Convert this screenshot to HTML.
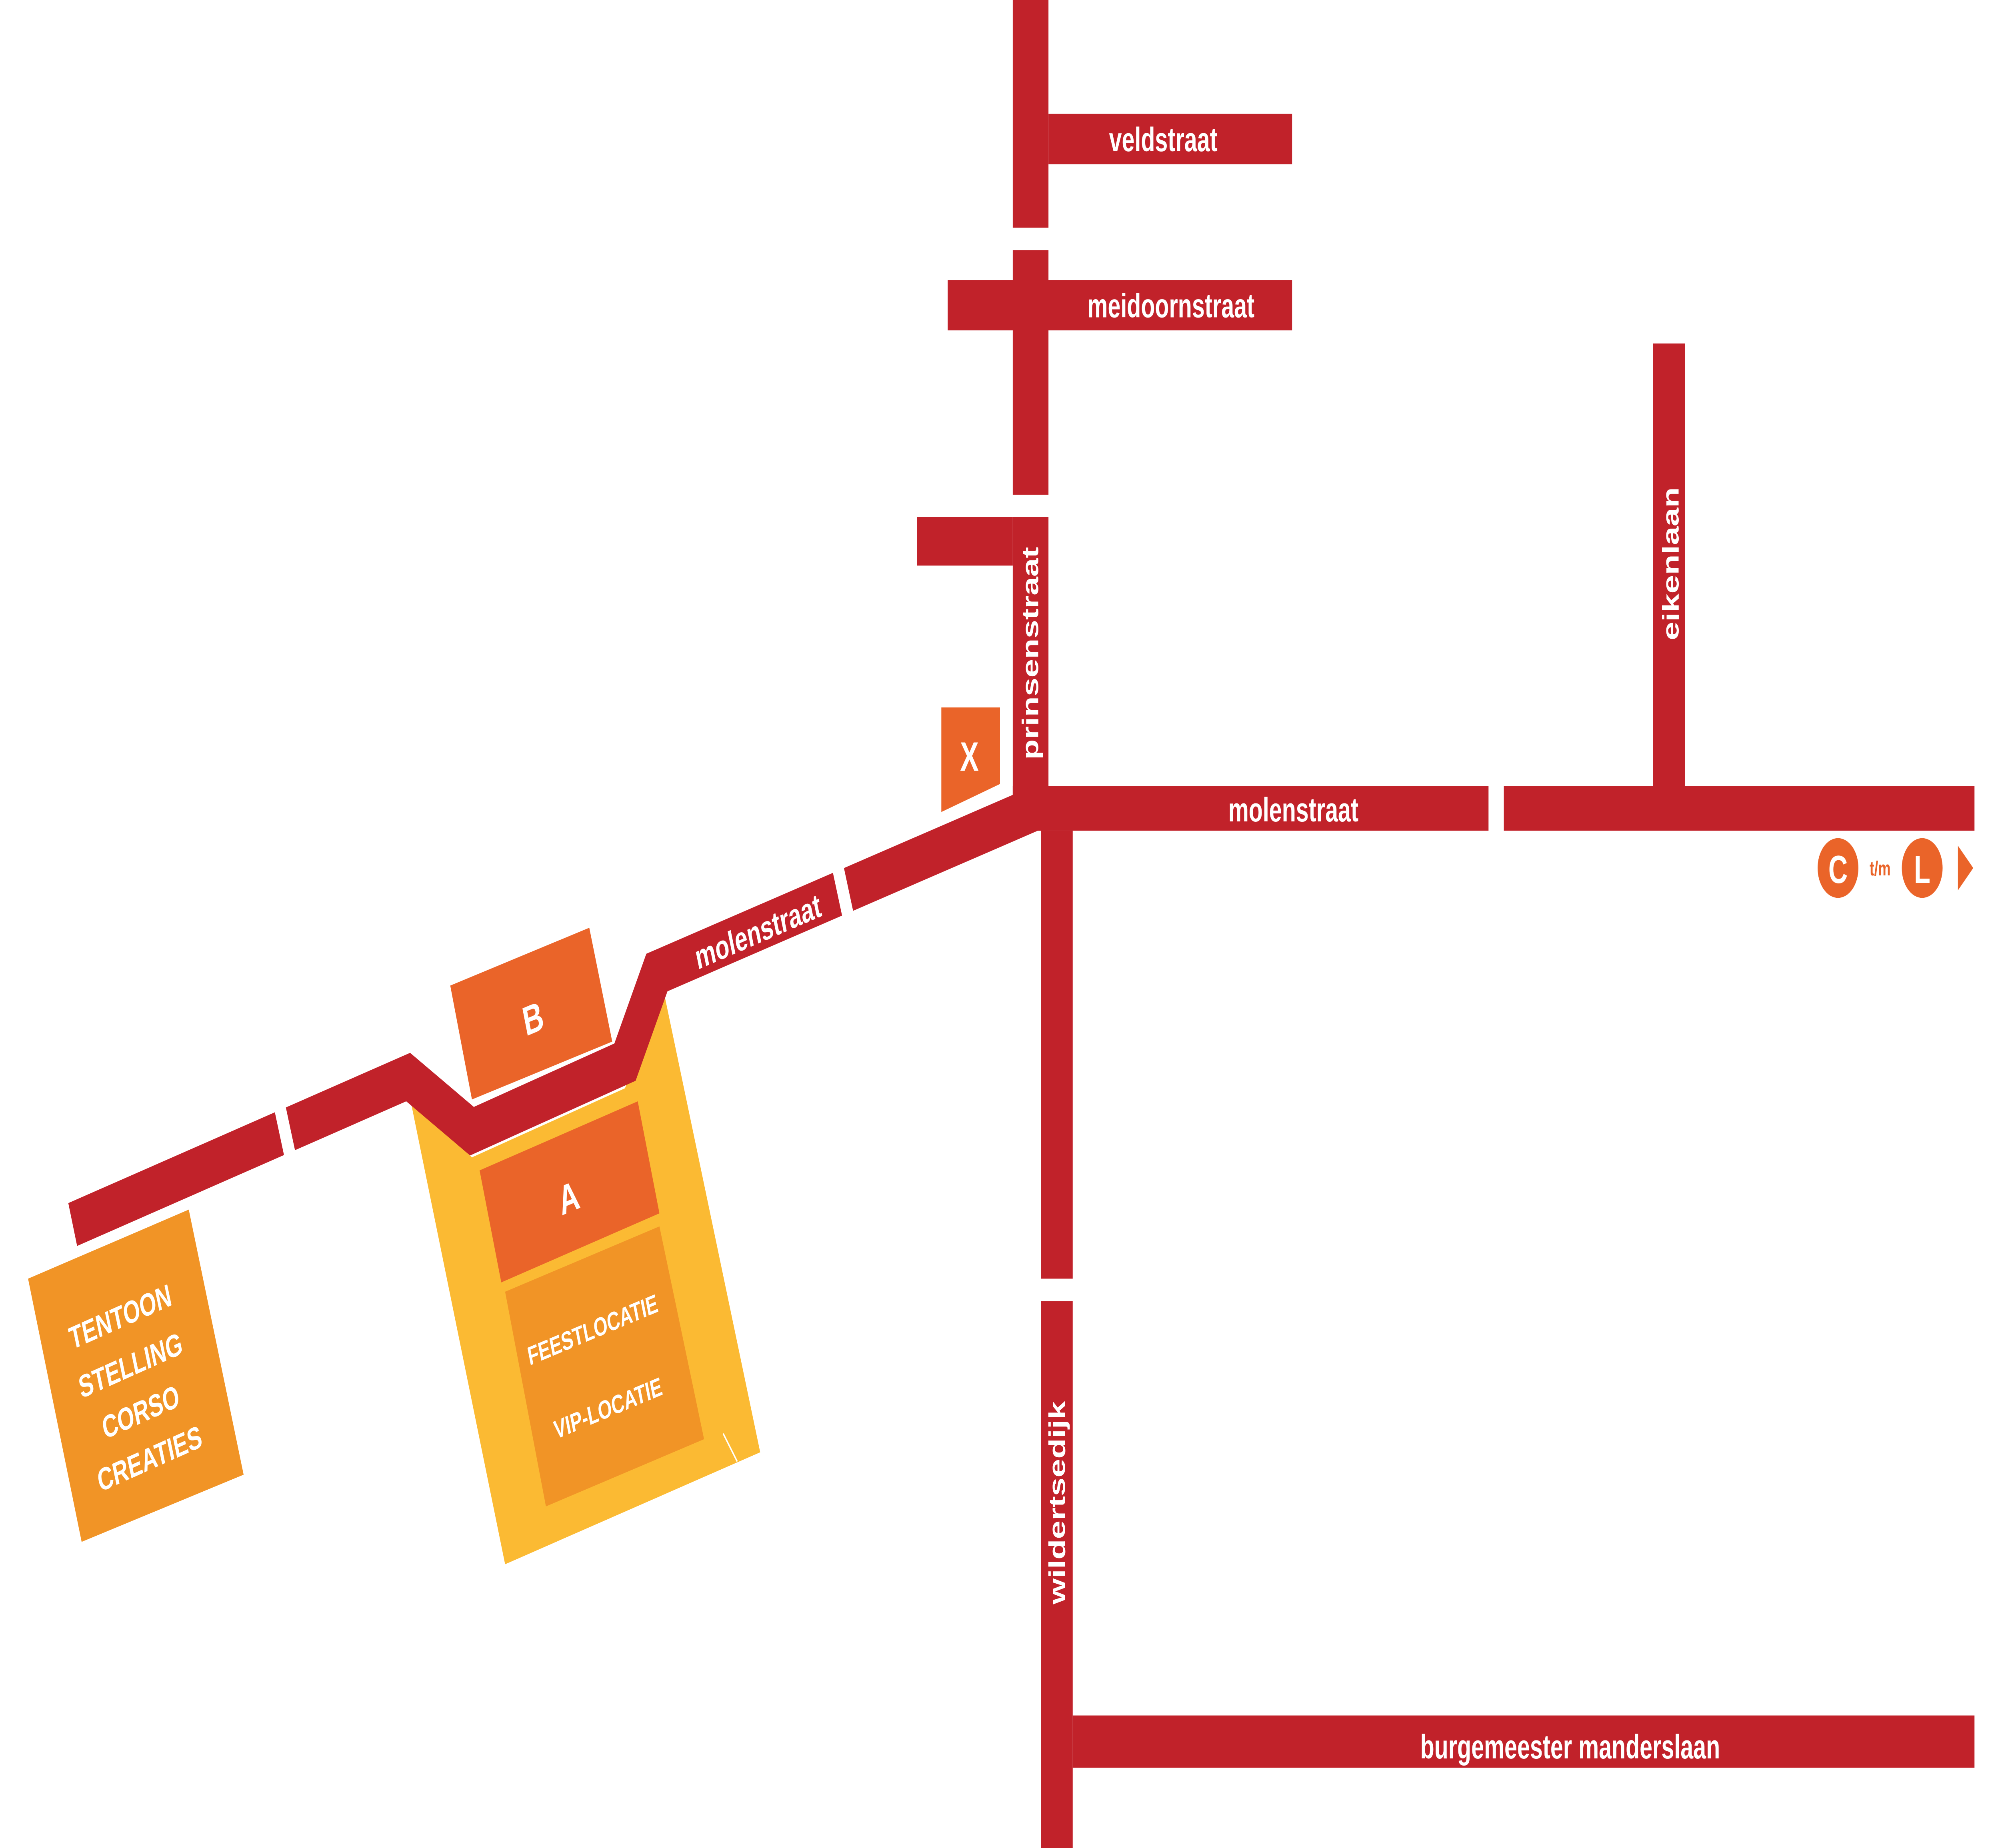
<!DOCTYPE html>
<html><head><meta charset="utf-8"><style>
html,body{margin:0;padding:0;background:#fff;overflow:hidden;width:100%;height:100%;}
svg{display:block;position:absolute;left:0;top:0;width:100vw;height:100vh;}
text{font-family:"Liberation Sans",sans-serif;font-weight:bold;fill:#fff;}
</style></head><body>
<svg viewBox="0 0 1568 990" preserveAspectRatio="none" xmlns="http://www.w3.org/2000/svg">
<g fill="#c1222a">
<rect x="794" y="0" width="28" height="122"/>
<rect x="794" y="134" width="28" height="131"/>
<rect x="794" y="277" width="28" height="168"/>
<rect x="822" y="61" width="191" height="27"/>
<rect x="743" y="150" width="270" height="27"/>
<rect x="719" y="277" width="75" height="26"/>
<rect x="794" y="421" width="373" height="24"/>
<rect x="1179" y="421" width="369" height="24"/>
<rect x="1296" y="184" width="25" height="237"/>
<rect x="816" y="445" width="25" height="240"/>
<rect x="816" y="697" width="25" height="293"/>
<rect x="841" y="919" width="707" height="28"/>
</g>
<polygon points="322,590 370,620 490,583 520,530 596,778 396,838" fill="#fbba33"/>
<polyline points="812,433 515,521 490,569 370,606 320,577 57,656" fill="none" stroke="#c1222a" stroke-width="24" stroke-linejoin="miter"/>
<polygon points="808,421 822,421 822,445 812,445" fill="#c1222a"/>
<g stroke="#fff" stroke-width="9">
<line x1="656" y1="462" x2="666" y2="494"/>
<line x1="219" y1="592" x2="229" y2="624"/>
</g>
<polygon points="376,627 500,590 517,650 393,687" fill="#ea6429"/>
<polygon points="396,692 517,657 552,771 428,807" fill="#f19426"/>
<line x1="567" y1="768" x2="578" y2="783" stroke="#fff" stroke-width="1"/>
<polygon points="353,528 462,497 480,558 370,589" fill="#ea6429"/>
<polygon points="738,379 784,379 784,420 738,435" fill="#ea6429"/>
<polygon points="22,685 148,648 191,790 64,826" fill="#f19426"/>
<text x="760" y="413" font-size="22" text-anchor="middle">X</text>
<text x="420" y="553" font-size="22" text-anchor="middle" transform="rotate(-16 420 553)">B</text>
<text x="448" y="649" font-size="22" text-anchor="middle" transform="rotate(-16 448 649)">A</text>
<text x="466" y="717" font-size="14" font-weight="normal" text-anchor="middle" transform="rotate(-16 466 717)">FEESTLOCATIE</text>
<text x="478" y="759" font-size="14" font-weight="normal" text-anchor="middle" transform="rotate(-16 478 759)">VIP-LOCATIE</text>
<g font-size="17" text-anchor="middle">
<text x="96" y="711" transform="rotate(-17 96 711)">TENTOON</text>
<text x="104" y="737" transform="rotate(-17 104 737)">STELLING</text>
<text x="112" y="762" transform="rotate(-17 112 762)">CORSO</text>
<text x="119" y="787" transform="rotate(-17 119 787)">CREATIES</text>
</g>
<g font-size="18" text-anchor="middle">
<text x="912" y="81">veldstraat</text>
<text x="918" y="170">meidoornstraat</text>
<text x="1014" y="440">molenstraat</text>
<text x="596" y="505" transform="rotate(-16.5 596 505)">molenstraat</text>
<text x="1231" y="942">burgemeester manderslaan</text>
<text x="814" y="350" transform="rotate(-90 814 350)">prinsenstraat</text>
<text x="1316" y="302" transform="rotate(-90 1316 302)">eikenlaan</text>
<text x="835" y="805" transform="rotate(-90 835 805)">wildertsedijk</text>
</g>
<circle cx="1441" cy="465" r="16" fill="#ea6429"/>
<circle cx="1507" cy="465" r="16" fill="#ea6429"/>
<text x="1441" y="473" font-size="21" text-anchor="middle">C</text>
<text x="1507" y="473" font-size="21" text-anchor="middle">L</text>
<text x="1474" y="469" font-size="11" font-weight="normal" text-anchor="middle" style="fill:#ea6429">t/m</text>
<polygon points="1535,453 1547,465 1535,477" fill="#ea6429"/>
</svg>
</body></html>
